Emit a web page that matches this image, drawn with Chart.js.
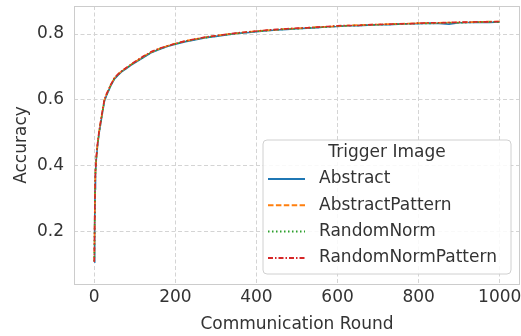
<!DOCTYPE html>
<html>
<head>
<meta charset="utf-8">
<script src="https://cdn.jsdelivr.net/npm/chart.js@4/dist/chart.umd.min.js"></script>
<style>
  html, body { margin: 0; padding: 0; background: #fff; }
  #wrap { width: 521px; height: 336px; }
</style>
</head>
<body>
<div id="wrap"><canvas id="acc"></canvas></div>
<script>
// communication rounds (x) and accuracy per trigger image
const rounds = [0, 1, 2, 3, 5, 8, 12, 16, 20, 25, 30, 35, 40, 50, 60, 70, 80, 90, 100,
  120, 140, 160, 180, 200, 225, 250, 275, 300, 325, 350, 375, 400, 425, 450, 475, 500,
  525, 550, 575, 600, 625, 650, 675, 700, 725, 750, 775, 800, 825, 850, 875, 900, 925,
  950, 975, 1000];

const abstractAcc = [0.108, 0.22, 0.33, 0.38, 0.42, 0.46, 0.50, 0.53, 0.56, 0.596, 0.613, 0.627, 0.641, 0.664, 0.677, 0.688, 0.696, 0.705, 0.713,
  0.728, 0.743, 0.753, 0.762, 0.769, 0.777, 0.783, 0.789, 0.793, 0.797, 0.802, 0.804, 0.807, 0.810, 0.812, 0.814, 0.816,
  0.818, 0.819, 0.822, 0.823, 0.825, 0.825, 0.827, 0.828, 0.828, 0.830, 0.831, 0.831, 0.833, 0.832, 0.830, 0.834, 0.835,
  0.836, 0.835, 0.837];
const abstractPatternAcc = [0.112, 0.23, 0.34, 0.385, 0.425, 0.465, 0.505, 0.535, 0.565, 0.600, 0.617, 0.630, 0.644, 0.667, 0.680, 0.690, 0.698, 0.707, 0.715,
  0.731, 0.745, 0.755, 0.764, 0.771, 0.779, 0.785, 0.790, 0.795, 0.799, 0.802, 0.806, 0.809, 0.811, 0.813, 0.816, 0.817,
  0.819, 0.821, 0.822, 0.824, 0.826, 0.827, 0.828, 0.829, 0.830, 0.831, 0.832, 0.833, 0.833, 0.834, 0.835, 0.835, 0.836,
  0.837, 0.838, 0.838];
const randomNormAcc = [0.110, 0.225, 0.335, 0.383, 0.423, 0.463, 0.502, 0.532, 0.562, 0.598, 0.615, 0.629, 0.643, 0.666, 0.678, 0.689, 0.697, 0.706, 0.714,
  0.729, 0.744, 0.754, 0.763, 0.770, 0.778, 0.784, 0.789, 0.794, 0.798, 0.801, 0.805, 0.808, 0.810, 0.813, 0.815, 0.816,
  0.818, 0.820, 0.821, 0.824, 0.825, 0.826, 0.827, 0.828, 0.829, 0.830, 0.831, 0.832, 0.832, 0.833, 0.834, 0.834, 0.835,
  0.836, 0.837, 0.836];
const randomNormPatternAcc = [0.109, 0.228, 0.338, 0.386, 0.428, 0.468, 0.507, 0.537, 0.567, 0.602, 0.618, 0.631, 0.645, 0.668, 0.680, 0.690, 0.699, 0.707, 0.716,
  0.732, 0.746, 0.756, 0.764, 0.771, 0.779, 0.785, 0.791, 0.795, 0.799, 0.803, 0.806, 0.809, 0.812, 0.814, 0.816, 0.818,
  0.819, 0.821, 0.823, 0.825, 0.826, 0.826, 0.828, 0.829, 0.830, 0.831, 0.831, 0.833, 0.834, 0.834, 0.835, 0.836, 0.836,
  0.837, 0.837, 0.838];

const seriesNames = ["Abstract", "AbstractPattern", "RandomNorm", "RandomNormPattern"];
const xTicks = [0, 200, 400, 600, 800, 1000];
const yTicks = [0.2, 0.4, 0.6, 0.8];

const colors = ["#1f77b4", "#ff7f0e", "#2ca02c", "#d62728"];
const dashes = [[], [5.5, 2.4], [1.5, 2.5], [5, 2, 1.5, 2]];
const allSeries = [abstractAcc, abstractPatternAcc, randomNormAcc, randomNormPatternAcc];

const FONT = "'DejaVu Sans', sans-serif";
const TEXT = "#333333";
const GRID = "#d4d4d4";

const datasets = allSeries.map((vals, i) => ({
  label: seriesNames[i],
  data: vals.map((v, j) => ({ x: rounds[j], y: v })),
  borderColor: colors[i],
  borderDash: dashes[i],
  borderWidth: 1.6,
  pointRadius: 0,
  tension: 0,
  fill: false,
  order: allSeries.length - i, // later series drawn on top
}));

// solid light frame round the plot area
const frame = {
  id: "frame",
  afterDatasetsDraw(chart) {
    const { ctx, chartArea: a } = chart;
    ctx.save();
    ctx.strokeStyle = "#cccccc";
    ctx.lineWidth = 1;
    ctx.strokeRect(Math.round(a.left) + 0.5, Math.round(a.top) + 0.5,
      Math.round(a.right - a.left) - 1, Math.round(a.bottom - a.top));
    ctx.restore();
  }
};

// legend drawn inside the plot, lower right, matplotlib style
const innerLegend = {
  id: "innerLegend",
  afterDraw(chart) {
    const ctx = chart.ctx;
    const a = chart.chartArea;
    const w = 248, h = 134;
    const x0 = a.right - 9 - w, y0 = a.bottom - 10 - h;
    ctx.save();
    ctx.beginPath();
    ctx.roundRect(x0, y0, w, h, 4);
    ctx.fillStyle = "rgba(255,255,255,0.85)";
    ctx.fill();
    ctx.strokeStyle = "#d0d0d0";
    ctx.lineWidth = 1;
    ctx.stroke();
    ctx.fillStyle = TEXT;
    ctx.font = "17px " + FONT;
    ctx.textAlign = "center";
    ctx.textBaseline = "middle";
    ctx.fillText("Trigger Image", x0 + w / 2, y0 + 13);
    chart.data.datasets.forEach((ds, i) => {
      const yy = y0 + 39 + i * 26.3;
      ctx.beginPath();
      ctx.setLineDash(ds.borderDash);
      ctx.strokeStyle = ds.borderColor;
      ctx.lineWidth = 2;
      ctx.moveTo(x0 + 5, yy);
      ctx.lineTo(x0 + 42, yy);
      ctx.stroke();
      ctx.setLineDash([]);
      ctx.fillStyle = TEXT;
      ctx.textAlign = "left";
      ctx.fillText(ds.label, x0 + 56, yy);
    });
    ctx.restore();
  }
};

new Chart(document.getElementById("acc"), {
  type: "line",
  data: { datasets },
  plugins: [frame, innerLegend],
  options: {
    responsive: true,
    maintainAspectRatio: false,
    animation: false,
    layout: { padding: { top: 6, right: 1, left: 0, bottom: 0 } },
    plugins: { legend: { display: false }, tooltip: { enabled: false } },
    scales: {
      x: {
        type: "linear",
        min: -50,
        max: 1050,
        afterBuildTicks: (s) => { s.ticks = xTicks.map(v => ({ value: v })); },
        afterFit: (s) => { s.height = 52; s.paddingLeft = 0; s.paddingRight = 0; },
        ticks: {
          color: TEXT,
          font: { family: FONT, size: 17 },
          padding: 3,
          maxRotation: 0,
          callback: (v) => String(v),
        },
        grid: { color: GRID, drawTicks: false, lineWidth: 1 },
        border: { display: false, dash: [4, 2.5] },
        title: {
          display: true,
          text: "Communication Round",
          color: TEXT,
          font: { family: FONT, size: 17 },
          padding: { top: 0, bottom: 1 },
        },
      },
      y: {
        type: "linear",
        min: 0.042,
        max: 0.885,
        afterBuildTicks: (s) => { s.ticks = yTicks.map(v => ({ value: v })); },
        afterFit: (s) => { s.width = 74; s.paddingTop = 0; s.paddingBottom = 0; },
        ticks: {
          color: TEXT,
          font: { family: FONT, size: 17 },
          padding: 10,
          callback: (v) => v.toFixed(1),
        },
        grid: { color: GRID, drawTicks: false, lineWidth: 1 },
        border: { display: false, dash: [4, 2.5] },
        title: {
          display: true,
          text: "Accuracy",
          color: TEXT,
          font: { family: FONT, size: 17 },
          padding: { top: 11, bottom: 0 },
        },
      },
    },
  },
  });
</script>
</body>
</html>
